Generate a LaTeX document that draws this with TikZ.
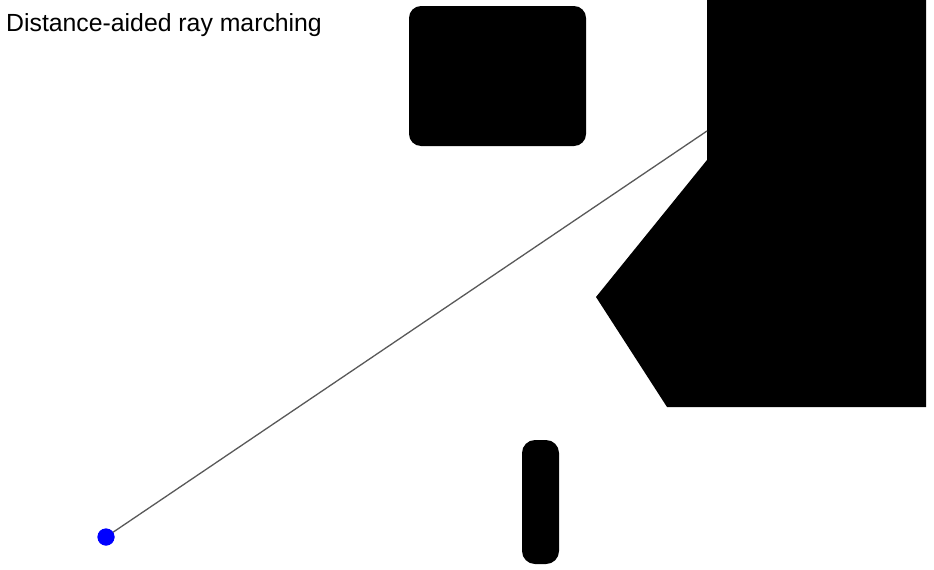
\documentclass[tikz,border=0pt]{standalone}
\usepackage{fontspec}
\setmainfont{Liberation Sans}
\begin{document}
\begin{tikzpicture}[x=1pt,y=-1pt,
  obstacle/.style={fill=black,draw=none},
  ray/.style={draw=black!65,line width=1.3pt},
  origin/.style={circle,fill=blue,draw=none,inner sep=0pt,minimum size=17pt}]
\useasboundingbox (0,0) rectangle (934,570);
\fill[white] (0,0) rectangle (934,570);
\node[anchor=base west,inner sep=0pt,font=\fontsize{24.8}{28}\selectfont] (title) at (6,31) {Distance-aided ray marching};
% obstacles
\fill[obstacle,rounded corners=12pt] (409,6) rectangle (586,146);
\fill[obstacle,rounded corners=13pt] (522,440) rectangle (559,564);
\fill[obstacle] (707,0) -- (926,0) -- (926,407) -- (667,407) -- (596,297) -- (707,160) -- cycle;
% ray
\coordinate (hit) at (707,131);
\node[origin] (eye) at (106,537) {};
\draw[ray] (eye.center) -- (hit);
\node[origin] at (eye.center) {};
\end{tikzpicture}
\end{document}
